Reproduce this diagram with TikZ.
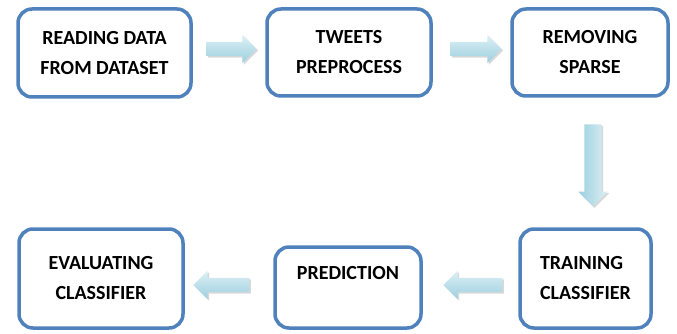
\documentclass[tikz,border=0pt]{standalone}
\usepackage{fontspec}
\setmainfont{Carlito}
\usetikzlibrary{shapes.arrows,shadows}
\definecolor{frameblue}{HTML}{4F81BD}
\definecolor{arrowcyan}{HTML}{9CCFDF}
\definecolor{arrowlight}{HTML}{DDF0F5}

\begin{document}
\begin{tikzpicture}[x=1pt,y=-1pt,
    stage/.style={rectangle,rounded corners=14pt,draw=frameblue,line width=3.5pt,fill=white,
        font=\fontsize{20}{30}\selectfont\bfseries,align=center,inner sep=0pt},
    flow/.style={single arrow,single arrow head extend=7pt,inner xsep=0pt,inner ysep=7pt,
        draw=none,top color=arrowlight,bottom color=arrowcyan,
        drop shadow={shadow xshift=1.5pt,shadow yshift=-1.5pt,fill=black!30}},
    flowdown/.style={flow,shape border rotate=270,inner xsep=8.5pt,inner ysep=0pt,
        single arrow head extend=6pt,left color=arrowcyan,right color=arrowlight}]
    \useasboundingbox (0,0) rectangle (677,334);
        \node at (104.5,53) [stage,minimum width=173pt,minimum height=88pt] (read) {READING DATA\\FROM DATASET};
        \node at (349,52.5) [stage,minimum width=164pt,minimum height=87pt] (prep) {TWEETS\\PREPROCESS};
        \node at (590,52.5) [stage,minimum width=156pt,minimum height=87pt] (sparse) {REMOVING\\SPARSE};
        \node at (585.5,278.5) [stage,minimum width=131pt,minimum height=99pt,align=left] (train) {TRAINING\\CLASSIFIER};
        \node at (348,287.5) [stage,minimum width=146pt,minimum height=81pt] (predict) {PREDICTION\\\mbox{}};
        \node at (101,278.5) [stage,minimum width=164pt,minimum height=99pt] (eval) {EVALUATING\\CLASSIFIER};
        % block arrows between the stages
        \node at (228,49) [flow,minimum height=50pt] (a1) {};
        \node at (472.5,49) [flow,minimum height=51pt] (a2) {};
        \node at (593,161) [flowdown,minimum height=82pt] (a3) {};
        \node at (476.5,285) [flow,minimum height=59pt,shape border rotate=180] (a4) {};
        \node at (225,285) [flow,minimum height=56pt,shape border rotate=180] (a5) {};
\end{tikzpicture}
\end{document}
